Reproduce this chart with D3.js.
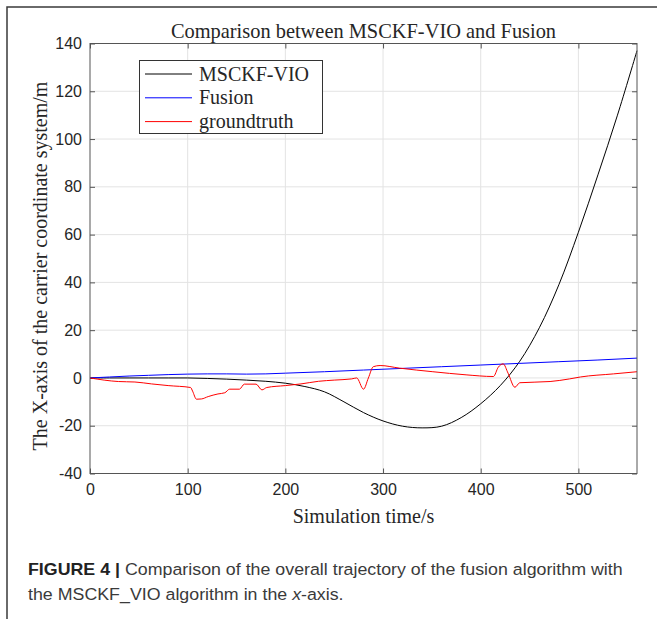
<!DOCTYPE html>
<html>
<head>
<meta charset="utf-8">
<script src="https://cdn.jsdelivr.net/npm/d3@7"></script>
<style>
  body { margin: 0; background: #fff; }
  .serif { font-family: "Liberation Serif", "Times New Roman", serif; fill: #262626; }
  .tick text { font-family: "Liberation Sans", Arial, sans-serif; font-size: 16px; fill: #262626; }
  .tick line { stroke: #555; }
  .grid line { stroke: #e3e3e3; stroke-width: 1; }
  .caption { font-family: "Liberation Sans", Arial, sans-serif; fill: #3a3a3a; }
</style>
</head>
<body>
<script>
// MSCKF-VIO estimate
const msckfTime = d3.range(0, 561, 20);
const msckf = [0, 0, 0, 0, 0, 0, -0.2, -0.5, -0.9, -1.4, -2.2, -3.6, -5.8, -10, -14.5,
               -18, -20.2, -20.9, -20.2, -16.6, -10.8, -3.2, 7, 21, 39, 61, 85, 110, 137];

// Fusion estimate
const fusionTime = [0, 20, 40, 60, 80, 100, 120, 140, 160, 180, 200, 240, 280, 320, 360, 400, 440, 480, 520, 560];
const fusion = [0, 0.4, 0.8, 1.1, 1.4, 1.6, 1.7, 1.7, 1.6, 1.7, 2.0, 2.6, 3.3, 4.0, 4.7, 5.4, 6.1, 6.8, 7.5, 8.3];

// groundtruth
const gtTime = [0, 29, 46, 63, 80, 103, 105, 109, 114, 121, 131, 138, 143, 153, 158, 170, 176, 181, 200,
                216, 234, 250, 268, 273, 280, 285, 290, 297, 317, 351, 385, 413, 418, 423, 428, 435,
                440, 471, 491, 502, 536, 560];
const gt = [0, -1.5, -1.7, -2.5, -3.2, -4.0, -5.5, -8.9, -8.8, -7.8, -6.7, -6.2, -4.7, -4.7, -2.6, -2.6, -5.0, -4.0, -3.2,
            -2.5, -1.4, -0.9, -0.4, 0, -4.7, 0, 4.7, 5.2, 4.1, 2.6, 1.3, 0.6, 4.5, 5.9, 2.0, -3.9,
            -2.0, -1.5, -0.4, 0.4, 1.7, 2.6];

const xTicks = [0, 100, 200, 300, 400, 500];
const yTicks = [-40, -20, 0, 20, 40, 60, 80, 100, 120, 140];

const series = [
  { name: "MSCKF-VIO", color: "#000000", xs: msckfTime, ys: msckf, curve: d3.curveCatmullRom.alpha(0.5) },
  { name: "Fusion", color: "#0000ff", xs: fusionTime, ys: fusion, curve: d3.curveMonotoneX },
  { name: "groundtruth", color: "#ff0000", xs: gtTime, ys: gt, curve: d3.curveMonotoneX }
];

const width = 657,
      height = 619;

const margin = { left: 90, right: 637, top: 43.5, bottom: 473.5 };

const x = d3.scaleLinear().domain([0, 560]).range([margin.left, margin.right]);
const y = d3.scaleLinear().domain([-40, 140]).range([margin.bottom, margin.top]);

const svg = d3.select("body").append("svg")
    .attr("width", width)
    .attr("height", height);

// outer figure frame (only top + left visible)
svg.append("path")
    .attr("d", "M7,619V7H657")
    .attr("fill", "none")
    .attr("stroke", "#3a3a3a")
    .attr("stroke-width", 1.5);

// grid
const grid = svg.append("g").attr("class", "grid");
grid.selectAll(".gx").data(xTicks.filter(d => d > 0)).join("line")
    .attr("x1", d => x(d)).attr("x2", d => x(d))
    .attr("y1", margin.top).attr("y2", margin.bottom);
grid.selectAll(".gy").data(yTicks.filter(d => d > -40 && d < 140)).join("line")
    .attr("x1", margin.left).attr("x2", margin.right)
    .attr("y1", d => y(d)).attr("y2", d => y(d));

// axes with inward ticks, plain hyphen minus like matlab
const fmt = d => String(d);

svg.append("g")
    .attr("transform", `translate(0,${margin.bottom})`)
    .call(d3.axisBottom(x).tickValues(xTicks).tickSize(-5).tickPadding(10).tickFormat(fmt))
    .call(g => g.select(".domain").remove());
svg.append("g")
    .attr("transform", `translate(0,${margin.top})`)
    .call(d3.axisTop(x).tickValues(xTicks).tickSize(-5).tickFormat(""))
    .call(g => g.select(".domain").remove());
svg.append("g")
    .attr("transform", `translate(${margin.left},0)`)
    .call(d3.axisLeft(y).tickValues(yTicks).tickSize(-5).tickPadding(8).tickFormat(fmt))
    .call(g => g.select(".domain").remove());
svg.append("g")
    .attr("transform", `translate(${margin.right},0)`)
    .call(d3.axisRight(y).tickValues(yTicks).tickSize(-5).tickFormat(""))
    .call(g => g.select(".domain").remove());

svg.selectAll(".tick text").attr("fill", "#262626");

// lines
svg.append("g").selectAll("path")
  .data(series)
  .join("path")
    .attr("fill", "none")
    .attr("stroke", d => d.color)
    .attr("stroke-width", 1)
    .attr("d", d => d3.line()
        .x(p => x(p[0]))
        .y(p => y(p[1]))
        .curve(d.curve)(d.xs.map((t, i) => [t, d.ys[i]])));

// box
svg.append("rect")
    .attr("x", margin.left).attr("y", margin.top)
    .attr("width", margin.right - margin.left)
    .attr("height", margin.bottom - margin.top)
    .attr("fill", "none")
    .attr("stroke", "#555")
    .attr("stroke-width", 1);

// legend
const legend = svg.append("g");
legend.append("rect")
    .attr("x", 139.5).attr("y", 60.5)
    .attr("width", 183).attr("height", 73)
    .attr("fill", "#fff")
    .attr("stroke", "#333")
    .attr("stroke-width", 1);
const rows = legend.selectAll(".row").data(series).join("g")
    .attr("transform", (d, i) => `translate(0,${74 + i * 23.8})`);
rows.append("line")
    .attr("x1", 145).attr("x2", 192)
    .attr("stroke", d => d.color)
    .attr("stroke-width", 1);
rows.append("text")
    .attr("class", "serif")
    .attr("x", 199).attr("y", 6.5)
    .attr("font-size", 20)
    .text(d => d.name);

// titles
svg.append("text")
    .attr("class", "serif")
    .attr("x", (margin.left + margin.right) / 2).attr("y", 38)
    .attr("text-anchor", "middle")
    .attr("font-size", 20.4)
    .text("Comparison between MSCKF-VIO and Fusion");

svg.append("text")
    .attr("class", "serif")
    .attr("x", (margin.left + margin.right) / 2).attr("y", 523)
    .attr("text-anchor", "middle")
    .attr("font-size", 20)
    .text("Simulation time/s");

svg.append("text")
    .attr("class", "serif")
    .attr("transform", "translate(47,266) rotate(-90)")
    .attr("text-anchor", "middle")
    .attr("font-size", 20)
    .text("The X-axis of the carrier coordinate system/m");

// caption: narrower glyphs than Liberation Sans, so squeeze both lines by the same factor
const capG = svg.append("g");
const cap1 = capG.append("text")
    .attr("class", "caption")
    .attr("x", 0).attr("y", 575)
    .attr("font-size", 16.5);
cap1.append("tspan").attr("font-weight", "bold").attr("fill", "#222").text("FIGURE 4 | ");
cap1.append("tspan").text("Comparison of the overall trajectory of the fusion algorithm with");

const cap2 = capG.append("text")
    .attr("class", "caption")
    .attr("x", 0).attr("y", 600)
    .attr("font-size", 16.5);
cap2.append("tspan").text("the MSCKF_VIO algorithm in the ");
cap2.append("tspan").attr("font-style", "italic").text("x");
cap2.append("tspan").text("-axis.");

const sx = 595 / cap1.node().getBBox().width;
capG.attr("transform", `translate(28,0) scale(${sx},1)`);
</script>
</body>
</html>
